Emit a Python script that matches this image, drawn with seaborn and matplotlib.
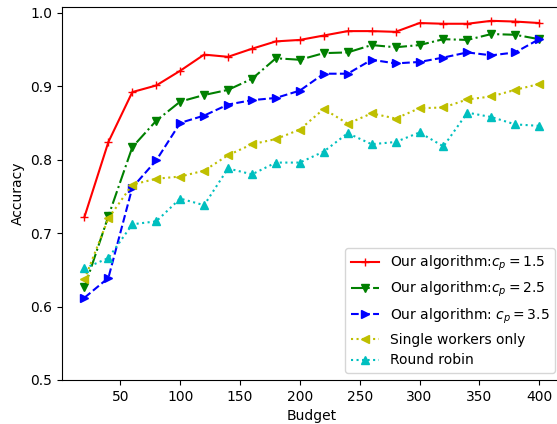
import matplotlib
matplotlib.use('Agg')
import matplotlib.pyplot as plt
import pandas as pd
import seaborn as sns

# Data
budget = [20, 40, 60, 80, 100, 120, 140, 160, 180, 200,
          220, 240, 260, 280, 300, 320, 340, 360, 380, 400]
ours_15 = [0.722, 0.824, 0.892, 0.901, 0.921, 0.943, 0.940, 0.951, 0.961, 0.963,
           0.969, 0.975, 0.975, 0.974, 0.986, 0.985, 0.985, 0.989, 0.988, 0.986]
ours_25 = [0.626, 0.723, 0.817, 0.853, 0.879, 0.888, 0.895, 0.910, 0.938, 0.936,
           0.945, 0.946, 0.956, 0.953, 0.956, 0.964, 0.963, 0.971, 0.970, 0.964]
ours_35 = [0.612, 0.639, 0.762, 0.799, 0.850, 0.860, 0.875, 0.881, 0.884, 0.894,
           0.917, 0.917, 0.936, 0.931, 0.933, 0.939, 0.946, 0.942, 0.946, 0.964]
single = [0.637, 0.720, 0.766, 0.774, 0.777, 0.785, 0.806, 0.821, 0.828, 0.841,
          0.869, 0.849, 0.863, 0.856, 0.870, 0.871, 0.882, 0.886, 0.895, 0.903]
round_robin = [0.652, 0.666, 0.712, 0.716, 0.747, 0.738, 0.788, 0.780, 0.796, 0.796,
               0.811, 0.836, 0.821, 0.824, 0.837, 0.818, 0.864, 0.858, 0.848, 0.846]

labels = ['Our algorithm:$c_p=1.5$', 'Our algorithm:$c_p=2.5$',
          'Our algorithm: $c_p=3.5$', 'Single workers only', 'Round robin']
colors = ['r', 'g', 'b', 'y', 'c']
markers = ['+', 'v', '>', '<', '^']
styles = ['-', '-.', '--', ':', ':']

series = [ours_15, ours_25, ours_35, single, round_robin]

fig = plt.figure(figsize=(5.57, 4.24), dpi=100)
ax = fig.add_axes([0.1108, 0.1038, 0.898, 0.880])

for vals, lab, c, m, ls in zip(series, labels, colors, markers, styles):
    df = pd.DataFrame({'Budget': budget, 'Accuracy': vals})
    sns.lineplot(data=df, x='Budget', y='Accuracy', ax=ax, color=c,
                 marker=m, linestyle=ls, linewidth=1.5, markersize=6,
                 markeredgecolor=c, markeredgewidth=1.0, label=lab)

ax.set_xlim(1, 419)
ax.set_ylim(0.5, 1.008)
ax.set_xticks([50, 100, 150, 200, 250, 300, 350, 400])
ax.set_yticks([0.5, 0.6, 0.7, 0.8, 0.9, 1.0])
ax.set_xlabel('Budget')
ax.set_ylabel('Accuracy')
ax.legend(loc='lower right')

fig.savefig('out.png', dpi=100)
